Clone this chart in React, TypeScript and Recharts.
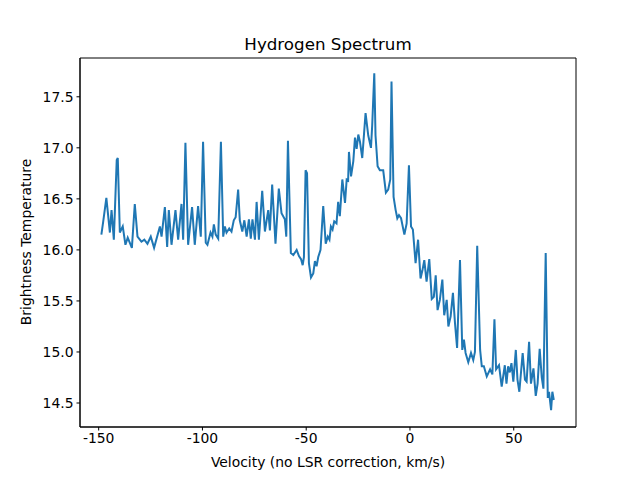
import { LineChart, Line, XAxis, YAxis, ReferenceArea } from "recharts";

// velocities (km/s)
const velocity = [
  -148.7, -147.8, -146.3, -144.6, -143.8, -142.7, -141.3, -140.8, -139.8, -138.4,
  -137.1, -136.0, -134.0, -132.6, -131.3, -129.4, -128.0, -126.5, -124.9, -123.3,
  -120.5, -119.7, -118.1, -117.0, -116.2, -114.9, -113.0, -111.7, -110.1, -109.3,
  -108.2, -106.9, -105.0, -103.7, -102.1, -100.8, -99.7, -98.4, -97.6, -96.1,
  -95.2, -94.5, -93.6, -92.4, -91.1, -90.0, -89.2, -88.4, -87.1, -86.0,
  -84.9, -84.0, -82.8, -82.0, -80.8, -79.8, -78.7, -77.6, -76.7, -75.9,
  -74.7, -73.9, -72.8, -71.2, -69.9, -68.3, -67.5, -66.4, -64.8, -63.2,
  -61.9, -60.3, -59.6, -58.8, -57.4, -56.2, -54.6, -53.5, -52.5, -51.7,
  -51.1, -50.3, -49.6, -48.7, -47.7, -46.6, -45.8, -45.0, -44.2, -43.1,
  -41.8, -40.6, -39.6, -38.8, -38.1, -37.3, -36.5, -35.4, -34.6, -33.8,
  -32.6, -31.3, -30.5, -29.8, -29.4, -28.4, -27.3, -26.5, -25.7, -24.9,
  -24.1, -23.0, -21.4, -20.1, -18.8, -18.2, -17.2, -16.6, -15.6, -14.5,
  -12.9, -11.6, -10.5, -9.5, -8.9, -7.9, -6.9, -6.1, -5.3, -4.3,
  -2.7, -1.6, -0.5, 0.5, 1.4, 2.7, 3.9, 5.1, 6.0, 6.9,
  8.0, 9.3, 10.5, 11.5, 12.4, 13.3, 14.4, 15.6, 16.5, 17.7,
  18.5, 19.6, 20.7, 21.7, 22.7, 24.1, 25.2, 26.0, 26.8, 28.1,
  29.4, 30.5, 31.3, 32.4, 33.8, 34.6, 35.6, 37.0, 38.6, 39.7,
  40.7, 41.5, 42.9, 44.2, 45.7, 46.5, 47.3, 48.1, 48.9, 49.8,
  51.0, 51.8, 52.7, 54.3, 55.4, 56.2, 57.4, 58.3, 59.5, 60.6,
  61.5, 62.5, 63.5, 64.3, 65.4, 66.4, 67.0, 68.0, 68.6, 69.3,
];

const brightness = [
  16.15, 16.28, 16.51, 16.17, 16.39, 16.10, 16.88, 16.90, 16.17, 16.23,
  16.05, 16.12, 16.02, 16.45, 16.13, 16.08, 16.10, 16.06, 16.13, 16.02,
  16.23, 16.13, 16.42, 16.03, 16.39, 16.05, 16.39, 16.10, 16.45, 16.10,
  17.05, 16.05, 16.42, 16.05, 16.43, 16.13, 17.06, 16.07, 16.05, 16.17,
  16.13, 16.25, 16.15, 16.11, 17.06, 16.13, 16.23, 16.17, 16.21, 16.18,
  16.29, 16.32, 16.59, 16.29, 16.18, 16.29, 16.13, 16.30, 16.11, 16.30,
  16.10, 16.47, 16.10, 16.58, 16.18, 16.39, 16.19, 16.64, 16.06, 16.60,
  16.36, 16.30, 16.13, 17.07, 15.97, 15.95, 16.00, 15.94, 15.91, 15.85,
  15.93, 16.78, 16.75, 15.87, 15.73, 15.77, 15.89, 15.84, 15.93, 16.00,
  16.43, 16.06, 16.13, 16.10, 16.23, 16.20, 16.28, 16.26, 16.47, 16.33,
  16.69, 16.46, 16.69, 16.68, 16.96, 16.72, 16.87, 17.10, 16.99, 17.13,
  17.06, 16.90, 17.34, 17.12, 17.00, 17.22, 17.73, 17.12, 16.82, 16.78,
  16.78, 16.56, 16.59, 16.69, 17.65, 16.52, 16.39, 16.31, 16.34, 16.31,
  16.15, 16.26, 16.83, 16.23, 16.20, 15.87, 16.10, 15.72, 15.80, 15.90,
  15.69, 15.91, 15.52, 15.54, 15.75, 15.41, 15.51, 15.71, 15.36, 15.51,
  15.25, 15.35, 15.58, 15.28, 15.04, 15.90, 15.02, 15.12, 14.99, 14.90,
  14.99, 14.92, 15.00, 16.04, 15.02, 14.86, 14.86, 14.76, 14.83, 14.78,
  15.32, 14.83, 14.87, 14.66, 14.87, 14.69, 14.86, 14.80, 14.89, 14.71,
  15.02, 14.73, 14.61, 14.99, 14.73, 14.71, 15.10, 14.69, 14.84, 14.57,
  14.69, 15.03, 14.75, 14.64, 15.97, 14.55, 14.61, 14.43, 14.61, 14.53,
];

const xTicks = [-150, -100, -50, 0, 50];
const yTicks = [14.5, 15.0, 15.5, 16.0, 16.5, 17.0, 17.5];

const X_MIN = -159;
const X_MAX = 80;
const Y_MIN = 14.265;
const Y_MAX = 17.88;

const data = velocity.map((v, i) => ({ v, t: brightness[i] }));

const font = "'DejaVu Sans', sans-serif";

export default function App() {
  return (
    <div style={{ position: "fixed", left: 0, top: 0, width: 640, height: 480, background: "#fff", fontFamily: font }}>
      <LineChart width={640} height={480} data={data} margin={{ top: 58, right: 64, left: 20, bottom: 23 }}>
        <XAxis
          dataKey="v"
          type="number"
          domain={[X_MIN, X_MAX]}
          ticks={xTicks}
          allowDataOverflow
          height={30}
          tickSize={3.5}
          stroke="#000"
          tick={{ fill: "#000", fontSize: 13.9, fontFamily: font }}
          tickMargin={3}
        />
        <YAxis
          type="number"
          domain={[Y_MIN, Y_MAX]}
          ticks={yTicks}
          allowDataOverflow
          width={60}
          tickSize={3.5}
          stroke="#000"
          tickFormatter={(t: number) => t.toFixed(1)}
          tick={{ fill: "#000", fontSize: 13.9, fontFamily: font }}
          tickMargin={3}
        />
        <ReferenceArea x1={X_MIN} x2={X_MAX} y1={Y_MIN} y2={Y_MAX} fill="none" stroke="#000" strokeWidth={1} />
        <Line
          dataKey="t"
          type="linear"
          stroke="#1f77b4"
          strokeWidth={2}
          dot={false}
          isAnimationActive={false}
        />
      </LineChart>
      <svg width={640} height={480} style={{ position: "absolute", left: 0, top: 0, pointerEvents: "none" }}>
        <text x={328} y={50} textAnchor="middle" fontSize={16.7} fontFamily={font} fill="#000">
          Hydrogen Spectrum
        </text>
        <text x={328} y={467} textAnchor="middle" fontSize={13.9} fontFamily={font} fill="#000">
          Velocity (no LSR correction, km/s)
        </text>
        <text
          x={31}
          y={242}
          textAnchor="middle"
          fontSize={13.9}
          fontFamily={font}
          fill="#000"
          transform="rotate(-90 31 242)"
        >
          Brightness Temperature
        </text>
      </svg>
    </div>
  );
}
